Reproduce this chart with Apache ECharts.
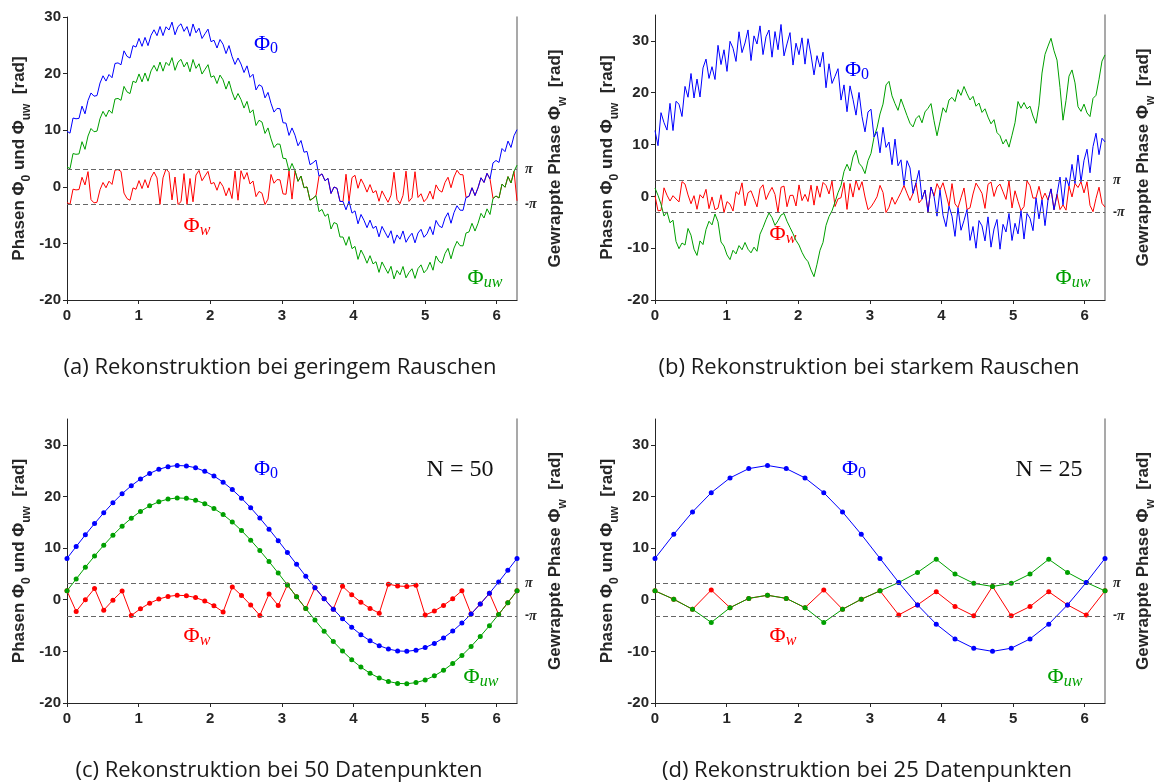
<!DOCTYPE html>
<html>
<head>
<meta charset="utf-8">
<title>Phasenrekonstruktion</title>
<script src="https://cdn.jsdelivr.net/npm/echarts@6/dist/echarts.min.js"></script>
<style>
  html, body { margin: 0; padding: 0; background: #ffffff; }
  #chart { width: 1158px; height: 782px; }
</style>
</head>
<body>
<div id="chart"></div>
<script>
// ---- tick labels ----
const xTicks = [0, 1, 2, 3, 4, 5, 6];
const yTicks = [-20, -10, 0, 10, 20, 30];

// ---- (a) low noise: true phase, unwrapped phase, wrapped phase ----
const a_phi0 = [
  9.80, 9.48, 12.15, 12.02, 12.09, 14.25, 12.90, 15.25, 16.58, 16.01,
  16.12, 18.33, 19.61, 18.68, 19.84, 19.27, 21.79, 21.89, 21.56, 24.02,
  23.05, 22.75, 24.94, 24.69, 26.22, 24.82, 26.39, 24.94, 26.76, 27.74,
  26.70, 28.32, 26.71, 28.27, 27.70, 29.10, 26.86, 28.30, 28.80, 27.46,
  28.30, 26.60, 28.77, 27.21, 28.02, 26.20, 27.04, 27.86, 25.64, 25.89,
  24.52, 26.02, 25.19, 23.54, 24.95, 23.05, 21.62, 22.76, 21.69, 20.19,
  21.37, 19.34, 19.88, 17.11, 18.03, 17.72, 15.71, 16.68, 14.75, 13.20,
  13.85, 13.79, 11.32, 11.25, 9.08, 10.40, 9.12, 7.25, 8.18, 6.11,
  6.25, 3.90, 4.25, 4.72, 1.89, 2.28, 1.07, 1.49, -1.18, -0.04,
  -0.27, -2.59, -2.59, -4.06, -2.52, -4.65, -4.25, -6.54, -4.89, -5.92,
  -7.22, -5.89, -7.34, -6.96, -8.84, -7.00, -8.02, -9.01, -7.77, -10.00,
  -8.50, -9.26, -7.80, -9.80, -8.86, -8.20, -9.90, -8.17, -7.51, -8.92,
  -8.30, -7.04, -8.46, -5.94, -6.89, -7.22, -5.52, -4.59, -6.44, -4.55,
  -3.35, -4.12, -4.16, -1.89, -1.69, -0.17, -1.54, -0.18, 1.59, 0.77,
  2.38, 1.39, 4.22, 4.65, 4.30, 6.76, 6.21, 8.08, 6.95, 9.02,
  10.10
];
const a_phiUw = [
  3.52, 3.20, 5.87, 5.74, 5.81, 7.97, 6.62, 8.97, 10.30, 9.73,
  9.84, 12.05, 13.33, 12.40, 13.56, 12.99, 15.51, 15.61, 15.28, 17.74,
  16.77, 16.47, 18.66, 18.41, 19.94, 18.54, 20.11, 18.66, 20.48, 21.46,
  20.42, 22.04, 20.43, 21.99, 21.42, 22.82, 20.58, 22.02, 22.52, 21.18,
  22.02, 20.32, 22.49, 20.93, 21.74, 19.92, 20.76, 21.58, 19.36, 19.61,
  18.24, 19.74, 18.91, 17.26, 18.67, 16.77, 15.34, 16.48, 15.41, 13.91,
  15.09, 13.06, 13.60, 10.83, 11.75, 11.44, 9.43, 10.40, 8.47, 6.92,
  7.57, 7.51, 5.04, 4.97, 2.80, 4.12, 2.84, 0.97, 1.90, -0.17,
  -0.03, -2.38, -2.03, -1.56, -4.39, -4.00, -5.21, -4.79, -7.46, -6.32,
  -6.55, -8.87, -8.87, -10.34, -8.80, -10.93, -10.53, -12.82, -11.17, -12.20,
  -13.50, -12.17, -13.62, -13.24, -15.12, -13.28, -14.30, -15.29, -14.05, -16.28,
  -14.78, -15.54, -14.08, -16.08, -15.14, -14.48, -16.18, -14.45, -13.79, -15.20,
  -14.58, -13.32, -14.74, -12.22, -13.17, -13.50, -11.80, -10.87, -12.72, -10.83,
  -9.63, -10.40, -10.44, -8.17, -7.97, -6.45, -7.82, -6.46, -4.69, -5.51,
  -3.90, -4.89, -2.06, -1.63, -1.98, 0.48, -0.07, 1.80, 0.67, 2.74,
  3.82
];
const a_phiW = [
  -2.77, -3.09, -0.42, -0.55, -0.48, 1.68, 0.33, 2.68, -2.27, -2.84,
  -2.73, -0.52, 0.76, -0.17, 0.99, 0.42, 2.94, 3.04, 2.71, -1.11,
  -2.08, -2.38, -0.19, -0.44, 1.09, -0.31, 1.26, -0.19, 1.63, 2.61,
  1.57, -3.10, 1.58, 3.14, 2.57, -2.32, 1.73, -3.12, -2.62, 2.33,
  -3.12, 1.47, -2.65, 2.08, 2.89, 1.07, 1.91, 2.73, 0.51, 0.76,
  -0.61, 0.89, 0.06, -1.59, -0.18, -2.08, 2.77, -2.37, 2.84, 1.34,
  2.52, 0.49, 1.03, -1.74, -0.82, -1.13, -3.14, -2.17, 2.18, 0.63,
  1.28, 1.22, -1.25, -1.32, 2.80, -2.17, 2.84, 0.97, 1.90, -0.17,
  -0.03, -2.38, -2.03, -1.56, 1.89, 2.28, 1.07, 1.49, -1.18, -0.04,
  -0.27, -2.59, -2.59, 2.22, -2.52, 1.63, 2.03, -0.26, 1.39, 0.36,
  -0.94, 0.39, -1.06, -0.68, -2.56, -0.72, -1.74, -2.73, -1.49, 2.57,
  -2.22, -2.98, -1.52, 2.77, -2.58, -1.92, 2.67, -1.89, -1.23, -2.64,
  -2.02, -0.76, -2.18, 0.34, -0.61, -0.94, 0.76, 1.69, -0.16, 1.73,
  2.93, 2.16, 2.12, -1.89, -1.69, -0.17, -1.54, -0.18, 1.59, 0.77,
  2.38, 1.39, -2.06, -1.63, -1.98, 0.48, -0.07, 1.80, 0.67, 2.74,
  -2.47
];

// ---- (b) strong noise ----
const b_phi0 = [
  12.70, 9.78, 16.15, 14.22, 12.79, 17.95, 12.70, 18.35, 17.78, 15.41,
  21.22, 19.13, 23.71, 18.98, 22.64, 19.17, 24.79, 26.49, 22.76, 25.02,
  22.55, 29.15, 25.44, 28.29, 24.12, 29.92, 28.59, 26.04, 31.76, 27.74,
  29.60, 32.12, 26.21, 30.97, 29.40, 32.90, 27.36, 30.80, 32.10, 26.86,
  31.80, 28.30, 33.17, 27.11, 29.42, 31.60, 25.34, 29.56, 27.34, 30.59,
  25.52, 30.42, 27.29, 23.44, 27.15, 24.95, 27.82, 20.96, 25.59, 21.79,
  23.17, 24.64, 18.58, 21.51, 16.33, 21.32, 18.71, 15.68, 20.05, 15.40,
  12.45, 16.29, 16.82, 11.45, 12.48, 8.40, 13.32, 9.45, 10.48, 6.11,
  11.05, 5.90, 7.05, 2.12, 6.89, 5.48, 0.57, 2.59, 5.02, -0.54,
  1.23, -2.99, 1.81, 0.04, -3.82, 1.25, -3.65, -5.84, -1.89, -3.82,
  -7.72, -2.19, -6.54, -4.66, -2.54, -8.50, -5.82, -10.01, -4.67, -5.70,
  -8.60, -3.96, -9.80, -6.30, -4.46, -10.20, -5.40, -6.87, -3.31, -8.52,
  -5.20, -7.24, -2.76, -8.24, -3.29, -4.22, -6.62, -0.29, -4.34, -0.65,
  -5.65, -0.72, 1.44, -2.59, 0.41, 3.73, -1.64, 3.62, 1.99, 6.17,
  2.48, 7.99, 2.82, 6.95, 9.10, 4.55, 9.61, 12.18, 8.05, 11.22,
  10.50
];
const b_phiUw = [
  1.6, 0.2, -1.5, -3.8, -3.0, -5.1, -4.6, -8.7, -10.1, -9.0,
  -9.4, -6.2, -7.5, -10.2, -11.4, -8.6, -9.3, -6.4, -4.8, -5.5,
  -3.4, -4.9, -8.8, -9.6, -11.3, -12.2, -10.4, -11.1, -9.5, -10.3,
  -8.9, -10.2, -10.9, -9.8, -10.6, -7.3, -6.0, -4.5, -3.2, -4.1,
  -5.6, -4.7, -3.6, -3.3, -4.8, -6.0, -7.2, -8.5, -9.4, -10.8,
  -11.9, -12.6, -14.2, -15.5, -13.1, -10.4, -8.9, -5.6, -3.9, -2.8,
  -1.1, 0.7, 2.1, 4.8, 6.2, 4.9, 7.6, 8.9, 6.4, 5.7,
  4.4, 6.9, 8.3, 11.4, 13.2, 15.9, 17.8, 21.5, 22.2, 19.4,
  17.9, 16.6, 18.8, 17.2, 15.6, 14.1, 13.4, 15.0, 15.6, 14.2,
  16.3, 17.0, 17.9, 14.6, 11.7, 14.4, 17.1, 16.2, 18.6, 19.1,
  18.3, 20.6, 19.5, 21.2, 19.8, 18.6, 19.3, 17.4, 18.0, 16.2,
  16.9, 15.3, 14.0, 14.8, 12.3, 11.7, 10.1, 11.0, 9.5, 11.8,
  14.2, 18.3, 17.0, 18.1, 16.9, 17.4, 15.5, 14.1, 17.6, 23.8,
  27.4, 29.0, 30.5, 28.1, 26.3, 21.0, 14.7, 18.5, 23.2, 24.4,
  21.9, 17.3, 16.4, 17.8, 16.1, 15.4, 18.9, 19.5, 22.6, 26.1,
  27.3
];
const b_phiW = [
  0.13, -2.79, -2.70, 1.65, 0.22, -0.90, 0.13, -0.50, -1.07, 2.84,
  2.37, 0.28, -1.42, 0.13, -2.49, 0.32, -0.34, 1.36, -2.37, -0.11,
  -2.58, -2.27, 0.31, -3.13, -1.01, -1.50, -2.83, 0.91, 0.34, 2.61,
  -1.82, 0.70, 1.08, -0.45, -2.02, 1.48, 2.23, -0.62, 0.68, 1.73,
  0.38, -3.12, 1.75, 1.98, -2.00, 0.18, 0.21, -1.86, 2.21, -0.83,
  0.39, -1.00, 2.16, -1.69, 2.02, -0.18, 2.69, 2.11, 0.46, 2.94,
  -1.96, -0.49, -0.27, 2.66, -2.52, 2.47, -0.14, 3.11, 1.20, 2.83,
  -0.12, -2.56, -2.03, -1.12, -0.09, 2.12, 0.75, -3.12, -2.09, -0.17,
  -1.52, -0.38, 0.77, 2.12, 0.61, -0.80, 0.57, 2.59, -1.26, -0.54,
  1.23, -2.99, 1.81, 0.04, 2.46, 1.25, 2.63, 0.44, -1.89, 2.46,
  -1.44, -2.19, -0.26, 1.62, -2.54, -2.22, 0.46, 2.56, 1.61, 0.58,
  -2.32, 2.32, 2.77, -0.02, 1.82, 2.37, 0.88, -0.59, 2.97, -2.24,
  1.08, -0.96, -2.76, -1.96, 2.99, 2.06, -0.34, -0.29, 1.94, -0.65,
  0.63, -0.72, 1.44, -2.59, 0.41, -2.55, -1.64, -2.66, 1.99, -0.11,
  2.48, 1.71, 2.82, 0.67, 2.82, -1.73, -2.96, -0.39, 1.77, -1.35,
  -2.07
];

// ---- (c) 50 samples ----
const c_phi0 = [
  8.00, 10.30, 12.57, 14.75, 16.83, 18.77, 20.53, 22.07, 23.39, 24.46,
  25.26, 25.77, 25.99, 25.92, 25.55, 24.89, 23.96, 22.77, 21.33, 19.67,
  17.82, 15.81, 13.67, 11.44, 9.15, 6.85, 4.56, 2.33, 0.19, -1.82,
  -3.67, -5.33, -6.77, -7.96, -8.89, -9.55, -9.92, -9.99, -9.77, -9.26,
  -8.46, -7.39, -6.07, -4.53, -2.77, -0.83, 1.25, 3.43, 5.70, 8.00
];
const c_phiUw = [
  1.72, 4.02, 6.29, 8.47, 10.55, 12.49, 14.25, 15.79, 17.11, 18.18,
  18.98, 19.49, 19.71, 19.64, 19.27, 18.61, 17.68, 16.49, 15.05, 13.39,
  11.54, 9.53, 7.39, 5.16, 2.87, 0.57, -1.72, -3.95, -6.09, -8.10,
  -9.95, -11.61, -13.05, -14.24, -15.17, -15.83, -16.20, -16.27, -16.05, -15.54,
  -14.74, -13.67, -12.35, -10.81, -9.05, -7.11, -5.03, -2.85, -0.58, 1.72
];
const c_phiW = [
  1.72, -2.27, 0.00, 2.18, -2.02, -0.08, 1.68, -3.06, -1.74, -0.67,
  0.13, 0.64, 0.86, 0.79, 0.42, -0.24, -1.17, -2.36, 2.48, 0.82,
  -1.03, -3.04, 1.10, -1.13, 2.87, 0.57, -1.72, 2.33, 0.19, -1.82,
  2.61, 0.95, -0.49, -1.68, -2.61, 3.02, 2.65, 2.58, 2.80, -2.98,
  -2.18, -1.11, 0.21, 1.75, -2.77, -0.83, 1.25, -2.85, -0.58, 1.72
];

// ---- (d) 25 samples ----
const d_phi0 = [
  8.00, 12.66, 17.00, 20.73, 23.59, 25.39, 26.00, 25.39, 23.59, 20.73,
  17.00, 12.66, 8.00, 3.34, -1.00, -4.73, -7.59, -9.39, -10.00, -9.39,
  -7.59, -4.73, -1.00, 3.34, 8.00
];
const d_phiUw = [
  1.72, 0.09, -1.85, -4.40, -1.54, 0.26, 0.87, 0.26, -1.54, -4.40,
  -1.85, 0.09, 1.72, 3.34, 5.28, 7.83, 4.97, 3.17, 2.57, 3.17,
  4.97, 7.83, 5.28, 3.34, 1.72
];
const d_phiW = [
  1.72, 0.09, -1.85, 1.88, -1.54, 0.26, 0.87, 0.26, -1.54, 1.88,
  -1.85, 0.09, 1.72, -2.94, -1.00, 1.55, -1.31, -3.11, 2.57, -3.11,
  -1.31, 1.55, -1.00, -2.94, 1.72
];

// ---- drawing ----
const TWO_PI = 2 * Math.PI;
const SANS = '"Liberation Sans", Arial, Helvetica, sans-serif';
const SERIF = '"Liberation Serif", "DejaVu Serif", "Times New Roman", serif';
const CAPTION = '"Open Sans", Lato, sans-serif';
const INK = '#262626';
const BLUE = '#0000ff', GREEN = '#00a000', RED = '#ff0000';

// samples are spread evenly over one period [0, 2π]
function samples(values) {
  const n = values.length;
  return values.map((v, i) => [i * TWO_PI / (n - 1), v]);
}

const panels = [
  { grid: { left: 67, top: 17, width: 450, height: 283 }, yMax: 30, dots: false,
    w: a_phiW, uw: a_phiUw, p0: a_phi0 },
  { grid: { left: 655, top: 15, width: 450, height: 285 }, yMax: 35, dots: false,
    w: b_phiW, uw: b_phiUw, p0: b_phi0 },
  { grid: { left: 67, top: 419, width: 450, height: 284 }, yMax: 35, dots: true,
    w: c_phiW, uw: c_phiUw, p0: c_phi0 },
  { grid: { left: 655, top: 419, width: 450, height: 284 }, yMax: 35, dots: true,
    w: d_phiW, uw: d_phiUw, p0: d_phi0 }
];

const nameStyle = {
  fontFamily: SANS, fontWeight: 'bold', fontSize: 17, color: INK, lineHeight: 28,
  rich: {
    s: { fontFamily: SANS, fontWeight: 'bold', fontSize: 12, lineHeight: 12,
         verticalAlign: 'bottom', color: INK }
  }
};

const grid = [], xAxis = [], yAxis = [], series = [];
panels.forEach((p, k) => {
  grid.push(p.grid);
  xAxis.push({
    type: 'value', gridIndex: k, min: 0, max: TWO_PI,
    axisLine: { show: true, onZero: false, lineStyle: { color: INK, width: 1 } },
    axisTick: { show: true, length: 4, customValues: xTicks, lineStyle: { color: INK } },
    axisLabel: { customValues: xTicks, formatter: v => String(Math.round(v)),
      fontFamily: SANS, fontWeight: 'bold', fontSize: 15, color: INK, margin: 8 },
    splitLine: { show: false }
  });
  yAxis.push({
    type: 'value', gridIndex: k, position: 'left', min: -20, max: p.yMax,
    axisLine: { show: true, onZero: false, lineStyle: { color: INK, width: 1 } },
    axisTick: { show: true, length: 4, customValues: yTicks, lineStyle: { color: INK } },
    axisLabel: { customValues: yTicks, fontFamily: SANS, fontWeight: 'bold',
      fontSize: 15, color: INK, margin: 6 },
    splitLine: { show: false },
    name: 'Phasen Φ{s|0} und Φ{s|uw}  [rad]',
    nameLocation: 'middle', nameRotate: 90, nameGap: 34,
    nameTextStyle: nameStyle
  });
  yAxis.push({
    type: 'value', gridIndex: k, position: 'right', min: -20, max: p.yMax,
    axisLine: { show: true, onZero: false, lineStyle: { color: '#8c8c8c', width: 1.5 } },
    axisTick: { show: false },
    axisLabel: { customValues: [Math.PI, -Math.PI],
      formatter: v => (v > 0 ? '{p|π}' : '-{p|π}'),
      fontFamily: SANS, fontWeight: 'bold', fontSize: 12, color: INK, margin: 8,
      rich: { p: { fontFamily: SERIF, fontStyle: 'italic', fontSize: 14, color: INK } } },
    splitLine: { show: false },
    name: 'Gewrappte Phase Φ{s|w}  [rad]',
    nameLocation: 'middle', nameRotate: 90, nameGap: 24,
    nameTextStyle: nameStyle
  });

  const base = {
    type: 'line', xAxisIndex: k, yAxisIndex: 2 * k,
    showSymbol: p.dots, showAllSymbol: true, symbol: 'circle', symbolSize: 5,
    animation: false, silent: true
  };
  series.push(Object.assign({}, base, {
    name: 'Φw', data: samples(p.w),
    lineStyle: { color: RED, width: 1 }, itemStyle: { color: RED },
    markLine: {
      silent: true, symbol: 'none', animation: false,
      label: { show: false },
      lineStyle: { color: '#666666', type: [5, 3], width: 1 },
      data: [{ yAxis: Math.PI }, { yAxis: -Math.PI }]
    }
  }));
  series.push(Object.assign({}, base, {
    name: 'Φuw', data: samples(p.uw),
    lineStyle: { color: GREEN, width: 1 }, itemStyle: { color: GREEN }
  }));
  series.push(Object.assign({}, base, {
    name: 'Φ0', data: samples(p.p0),
    lineStyle: { color: BLUE, width: 1 }, itemStyle: { color: BLUE }
  }));
});

// curve names with sub-scripts
function phiLabel(x, y, sub, italicSub, color) {
  return {
    type: 'text', x: x, y: y, silent: true,
    style: {
      text: '{p|Φ}{s|' + sub + '}', align: 'center', verticalAlign: 'middle',
      fill: color,
      rich: {
        p: { fontFamily: SERIF, fontSize: 22, lineHeight: 26, fill: color },
        s: { fontFamily: SERIF, fontSize: 16, lineHeight: 16, verticalAlign: 'bottom',
             fontStyle: italicSub ? 'italic' : 'normal', fill: color }
      }
    }
  };
}
function plainText(x, y, text, font, size, color) {
  return {
    type: 'text', x: x, y: y, silent: true,
    style: { text: text, align: 'center', verticalAlign: 'middle',
      fontFamily: font, fontSize: size, fill: color }
  };
}

const graphic = [
  phiLabel(266, 44, '0', false, BLUE),
  phiLabel(197, 226, 'w', true, RED),
  phiLabel(485, 278, 'uw', true, GREEN),
  phiLabel(857, 70, '0', false, BLUE),
  phiLabel(783, 234, 'w', true, RED),
  phiLabel(1073, 278, 'uw', true, GREEN),
  phiLabel(266, 469, '0', false, BLUE),
  phiLabel(197, 636, 'w', true, RED),
  phiLabel(481, 677, 'uw', true, GREEN),
  phiLabel(854, 469, '0', false, BLUE),
  phiLabel(783, 636, 'w', true, RED),
  phiLabel(1065, 677, 'uw', true, GREEN),
  plainText(460, 470, 'N = 50', SERIF, 24, '#111111'),
  plainText(1049, 470, 'N = 25', SERIF, 24, '#111111'),
  plainText(280, 368, '(a) Rekonstruktion bei geringem Rauschen', CAPTION, 22, '#1a1a1a'),
  plainText(869, 368, '(b) Rekonstruktion bei starkem Rauschen', CAPTION, 22, '#1a1a1a'),
  plainText(279, 771, '(c) Rekonstruktion bei 50 Datenpunkten', CAPTION, 22, '#1a1a1a'),
  plainText(867, 771, '(d) Rekonstruktion bei 25 Datenpunkten', CAPTION, 22, '#1a1a1a')
];

const chart = echarts.init(document.getElementById('chart'), null, { renderer: 'canvas' });
chart.setOption({
  backgroundColor: '#ffffff',
  animation: false,
  grid: grid,
  xAxis: xAxis,
  yAxis: yAxis,
  series: series,
  graphic: graphic
});
</script>
</body>
</html>
